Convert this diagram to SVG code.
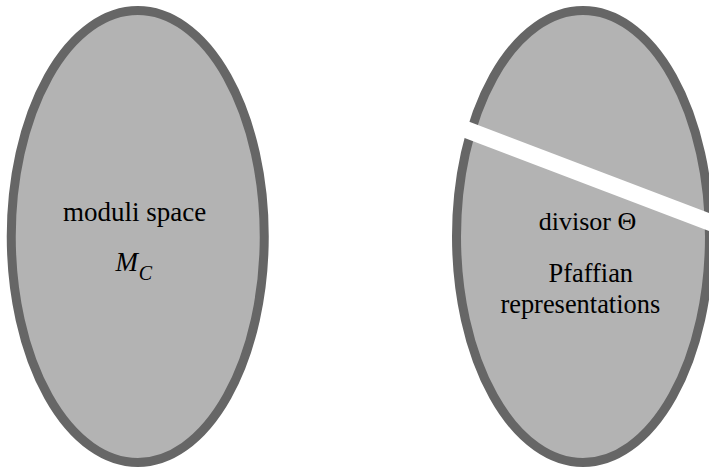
<svg xmlns="http://www.w3.org/2000/svg" width="709" height="468" viewBox="0 0 709 468">
<style>
.blob{fill:#b3b3b3;stroke:#666666;stroke-width:9}
.lbl{font-family:"Liberation Serif","Times New Roman",serif;fill:#000;text-anchor:middle}
.it{font-style:italic}
</style>
<rect width="709" height="468" fill="#ffffff"/>
<g id="moduli-space">
<ellipse class="blob" cx="137.75" cy="236.5" rx="126.5" ry="226"/>
<text class="lbl" x="134.7" y="220.7" font-size="27">moduli space</text>
<text class="lbl it" x="126.7" y="271" font-size="27" text-anchor="start">M<tspan x="145.5" dy="9" font-size="20">C</tspan></text>
</g>
<g id="divisor-theta">
<ellipse class="blob" cx="583" cy="236.5" rx="126.5" ry="226"/>
<line x1="440" y1="119.6" x2="720" y2="226.2" stroke="#ffffff" stroke-width="17"/>
<text class="lbl" x="587.5" y="230" font-size="26">divisor Θ</text>
<text class="lbl" x="590.8" y="281.7" font-size="26.4">Pfaffian</text>
<text class="lbl" x="580.3" y="313.3" font-size="26.4">representations</text>
</g>
<g id="connectors"></g>
</svg>
